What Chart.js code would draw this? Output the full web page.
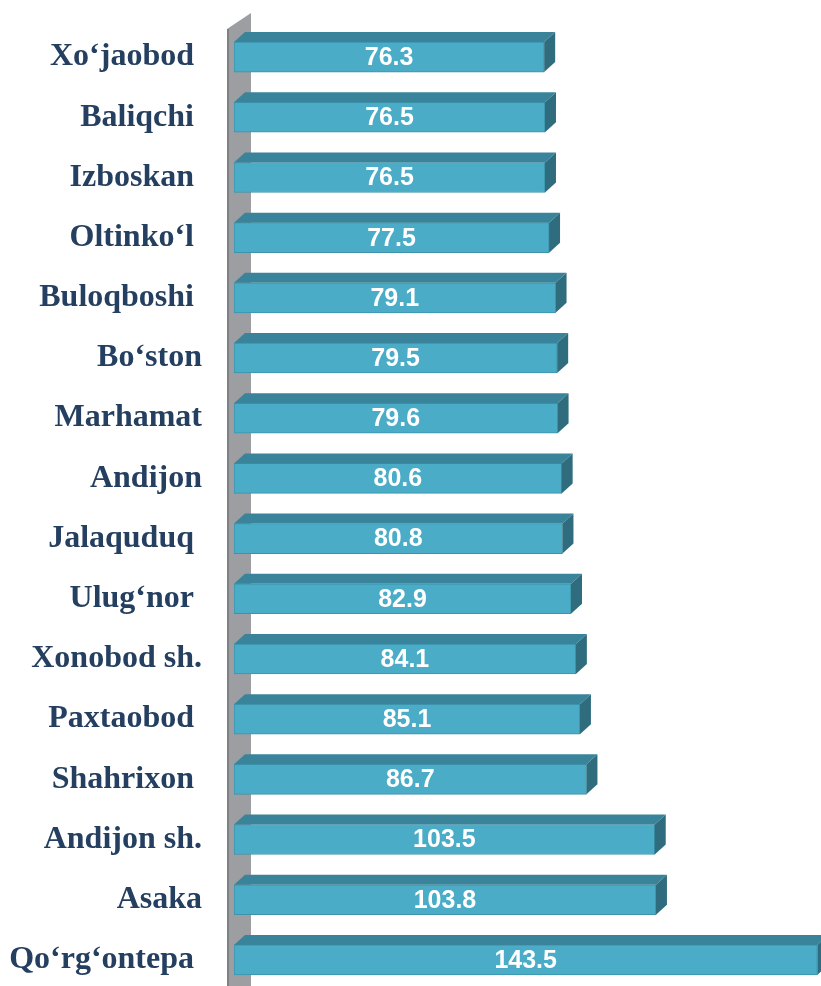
<!DOCTYPE html>
<html>
<head>
<meta charset="utf-8">
<script src="https://cdn.jsdelivr.net/npm/chart.js@4/dist/chart.umd.min.js"></script>
<style>
    html, body { margin: 0; padding: 0; background: #fff; overflow: hidden; }
    #wrap { width: 821px; height: 1010px; }
</style>
</head>
<body>
<div id="wrap"><canvas id="districtChart"></canvas></div>
<script>
// Districts (labels with a trailing space sit a bit further left, as in the original)
const districts = [
    'Xo‘jaobod ', 'Baliqchi ', 'Izboskan ', 'Oltinko‘l ', 'Buloqboshi ',
    'Bo‘ston', 'Marhamat', 'Andijon', 'Jalaquduq ', 'Ulug‘nor ',
    'Xonobod sh.', 'Paxtaobod ', 'Shahrixon ', 'Andijon sh.', 'Asaka', 'Qo‘rg‘ontepa '
];
const values = [76.3, 76.5, 76.5, 77.5, 79.1, 79.5, 79.6, 80.6, 80.8, 82.9, 84.1, 85.1, 86.7, 103.5, 103.8, 143.5];

const DEPTH_X = 11;
const DEPTH_Y = 10;

// grey back wall behind the bars
const wallPlugin = {
    id: 'wall',
    beforeDatasetsDraw(chart) {
        const { ctx, chartArea } = chart;
        const x0 = chartArea.left - 7;
        const x1 = chartArea.left + 17;
        ctx.save();
        ctx.beginPath();
        ctx.moveTo(x0, chartArea.top + 2);
        ctx.lineTo(x1, chartArea.top - 14);
        ctx.lineTo(x1, chart.height);
        ctx.lineTo(x0, chart.height);
        ctx.closePath();
        ctx.fillStyle = '#9c9ea2';
        ctx.fill();
        ctx.fillStyle = '#7e8084';
        ctx.fillRect(x0, chartArea.top + 2, 2, chart.height);
        ctx.restore();
    }
};

// top and side faces + value labels
const depthPlugin = {
    id: 'depth',
    afterDatasetsDraw(chart) {
        const { ctx } = chart;
        const meta = chart.getDatasetMeta(0);
        ctx.save();
        meta.data.forEach((bar, i) => {
            const x0 = bar.base;
            const x1 = bar.x;
            const yTop = bar.y - bar.height / 2;
            const yBot = bar.y + bar.height / 2;

            ctx.beginPath();
            ctx.moveTo(x0, yTop);
            ctx.lineTo(x0 + DEPTH_X, yTop - DEPTH_Y);
            ctx.lineTo(x1 + DEPTH_X, yTop - DEPTH_Y);
            ctx.lineTo(x1, yTop);
            ctx.closePath();
            ctx.fillStyle = '#39849a';
            ctx.fill();

            ctx.beginPath();
            ctx.moveTo(x1, yTop);
            ctx.lineTo(x1 + DEPTH_X, yTop - DEPTH_Y);
            ctx.lineTo(x1 + DEPTH_X, yBot - DEPTH_Y);
            ctx.lineTo(x1, yBot);
            ctx.closePath();
            ctx.fillStyle = '#2f6d7e';
            ctx.fill();

            ctx.fillStyle = '#ffffff';
            ctx.font = 'bold 25px "Liberation Sans", Arial, sans-serif';
            ctx.textAlign = 'center';
            ctx.textBaseline = 'middle';
            ctx.fillText(values[i].toFixed(1), (x0 + x1) / 2, bar.y + 1);
        });
        ctx.restore();
    }
};

new Chart(document.getElementById('districtChart'), {
    type: 'bar',
    data: {
        labels: districts,
        datasets: [{
            data: values,
            backgroundColor: '#4aacc6',
            borderColor: '#3c93ab',
            borderWidth: 1,
            borderSkipped: false,
            barThickness: 30
        }]
    },
    options: {
        indexAxis: 'y',
        responsive: true,
        maintainAspectRatio: false,
        animation: false,
        layout: {
            padding: { top: 27, right: 0, bottom: 20, left: 0 }
        },
        plugins: {
            legend: { display: false },
            tooltip: { enabled: false }
        },
        scales: {
            x: {
                display: false,
                min: 0,
                max: 144.4
            },
            y: {
                afterFit(scale) { scale.width = 234; },
                grid: { display: false, drawTicks: true, tickLength: 32 },
                border: { display: false },
                ticks: {
                    autoSkip: false,
                    padding: 0,
                    color: '#243f60',
                    font: { family: '"Liberation Serif", "Times New Roman", serif', size: 32, weight: 'bold' }
                }
            }
        }
    },
    plugins: [wallPlugin, depthPlugin]
});
</script>
</body>
</html>
